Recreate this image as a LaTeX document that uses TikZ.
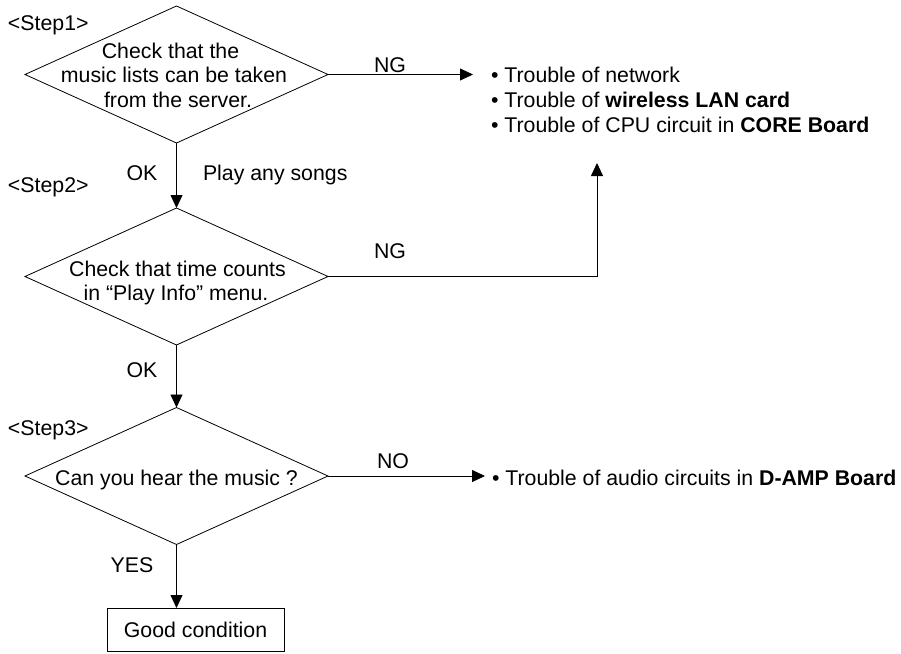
\documentclass[tikz,border=0pt]{standalone}
\usepackage{fontspec}
\setmainfont{Liberation Sans}
\usetikzlibrary{shapes.geometric,arrows.meta}
\begin{document}
\begin{tikzpicture}[x=1pt,y=-1pt,
  every node/.style={font=\fontsize{21.3}{25}\selectfont, inner sep=0pt, outer sep=0pt},
  dec/.style={diamond, draw, line width=0.8pt, minimum width=303pt, minimum height=137pt, inner sep=0pt},
  tl/.style={anchor=base},
  tlw/.style={anchor=base west},
  conn/.style={draw, line width=0.8pt, -{Triangle[length=13pt,width=12pt]}},
  endbox/.style={draw, line width=0.8pt, minimum width=177pt, minimum height=43pt}]
\useasboundingbox (0,0) rectangle (901,653);

% decisions
\node[dec] (d1) at (176.5,74.5) {};
\node[dec] (d2) at (176.5,276.5) {};
\node[dec] (d3) at (176.5,476) {};
\node[endbox] (good) at (195.5,629.5) {};

% texts in shapes
\node[tl] (d1a) at (170.5,58) {Check that the};
\node[tl] (d1b) at (174,82.5) {music lists can be taken};
\node[tl] (d1c) at (178,107) {from the server.};
\node[tl] (d2a) at (177.5,276) {Check that time counts};
\node[tl] (d2b) at (176,300.5) {in “Play Info” menu.};
\node[tl] (d3a) at (176.5,485) {Can you hear the music ?};
\node[tl] (gc) at (195.5,637) {Good condition};

% step labels
\node[tlw] (s1) at (8,30) {<Step1>};
\node[tlw] (s2) at (8,192) {<Step2>};
\node[tlw] (s3) at (8,435) {<Step3>};

% branch labels
\node[tl] (ng1) at (390,72) {NG};
\node[tl] (ok1) at (142,180) {OK};
\node[tlw] (play) at (203,180) {Play any songs};
\node[tl] (ng2) at (390,258) {NG};
\node[tl] (ok2) at (142,377) {OK};
\node[tl] (no) at (393,468) {NO};
\node[tl] (yes) at (132,572) {YES};

% trouble lists
\node[tlw] (t1) at (491,82) {• Trouble of network};
\node[tlw] (t2) at (491,107) {• Trouble of \textbf{wireless LAN card}};
\node[tlw] (t3) at (491,132) {• Trouble of CPU circuit in \textbf{CORE Board}};
\node[tlw] (t4) at (492,485) {• Trouble of audio circuits in \textbf{D-AMP Board}};

% connector end points
\coordinate (e1) at (473,74.5);
\coordinate (c2) at (597,276.5);
\coordinate (e2) at (597,163);
\coordinate (e3) at (485,476);

% connectors
\draw[conn] (d1.south) -- (d2.north);
\draw[conn] (d2.south) -- (d3.north);
\draw[conn] (d3.south) -- (d3.south |- good.north);
\draw[conn] (d1.east) -- (e1);
\draw[conn] (d2.east) -- (c2) -- (e2);
\draw[conn] (d3.east) -- (e3);
\end{tikzpicture}
\end{document}
